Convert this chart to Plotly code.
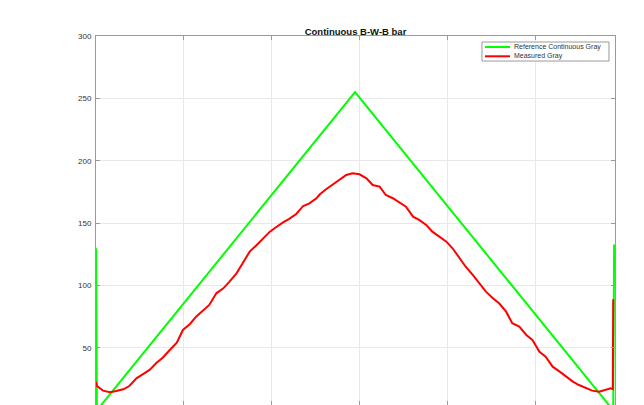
import plotly.graph_objects as go

# Reference continuous gray (vertices of the polyline)
ref_x = [0, 1, 295, 589, 590]
ref_y = [130, 0, 255, 0, 133]

# Measured gray
meas_x = [0, 1, 8, 16, 23, 31, 38, 46, 54, 61, 69, 76, 84, 92, 99, 107, 114, 122,
          129, 137, 145, 152, 160, 167, 175, 183, 190, 198, 205, 213, 220, 228,
          236, 243, 251, 255, 262, 270, 277, 285, 292, 300, 308, 315, 323, 330,
          338, 346, 353, 361, 368, 376, 383, 391, 399, 406, 414, 421, 429, 437,
          444, 452, 459, 467, 474, 482, 490, 497, 505, 512, 520, 528, 535, 543,
          550, 558, 565, 573, 581, 586, 588.5, 589]
meas_y = [23, 19.5, 15.8, 14.5, 15.5, 16.9, 19.5, 25.7, 29.2, 32.4, 38.2, 42.2,
          48.4, 54.3, 64.4, 69.2, 75.1, 80.4, 84.5, 93.8, 97.8, 103.1, 109.8,
          117.9, 127.2, 132.5, 137.3, 143.2, 146.7, 150.7, 153.4, 157.4, 163.8,
          165.9, 170, 173.2, 177.2, 181.2, 184.6, 188.6, 190, 189.2, 186, 180.6,
          179.3, 172.6, 170, 166.7, 163.2, 155.2, 152.6, 148.6, 143.2, 139.2,
          135.2, 129.9, 121.9, 115.1, 108.5, 101.8, 95.1, 89.8, 85.8, 79.1, 69.8,
          67.1, 60.4, 56.4, 47, 43, 35, 31, 27, 23, 20.3, 17.7, 15.8, 15, 16.3,
          17.7, 17, 89]

y_ticks = [0, 50, 100, 150, 200, 250, 300]
x_ticks = [0, 100, 200, 300, 400, 500]

series_names = ["Reference Continuous Gray", "Measured Gray"]
series_colors = ["#00ff00", "#ff0000"]

FONT = "Liberation Sans, Arial, Helvetica, sans-serif"

fig = go.Figure()
fig.add_trace(go.Scatter(x=ref_x, y=ref_y, mode="lines", name=series_names[0],
                         line=dict(color=series_colors[0], width=2)))
fig.add_trace(go.Scatter(x=meas_x, y=meas_y, mode="lines", name=series_names[1],
                         line=dict(color=series_colors[1], width=2)))

axis_common = dict(showline=True, linecolor="#9a9a9a", linewidth=1, mirror="ticks",
                   ticks="inside", tickcolor="#9a9a9a", ticklen=4,
                   showgrid=True, gridcolor="#e8e8e8", gridwidth=1, zeroline=False,
                   automargin=False,
                   tickfont=dict(family=FONT, size=8, color="#333333"))

# Compact MATLAB-style legend drawn in the axes' domain coordinates
shapes = [dict(type="rect", xref="x domain", yref="y domain",
               x0=0.7437, x1=0.9884, y0=0.9322, y1=0.9837,
               line=dict(color="#9a9a9a", width=1), fillcolor="white", layer="above")]
annotations = []
row_y = [0.9702, 0.945]
for name, color, yy in zip(series_names, series_colors, row_y):
    shapes.append(dict(type="line", xref="x domain", yref="y domain",
                       x0=0.7495, x1=0.7977, y0=yy, y1=yy,
                       line=dict(color=color, width=2), layer="above"))
    annotations.append(dict(xref="x domain", yref="y domain", x=0.8015, y=yy,
                            xanchor="left", yanchor="middle", showarrow=False,
                            text=name, font=dict(family=FONT, size=7, color="#333333")))

fig.update_layout(
    width=644, height=405,
    margin=dict(l=96, r=29, t=36, b=0),
    paper_bgcolor="white", plot_bgcolor="white",
    title=dict(text="<b>Continuous B-W-B bar</b>", x=0.5, xref="paper", xanchor="center",
               y=1, yref="paper", yanchor="bottom", pad=dict(b=1),
               font=dict(family=FONT, size=9.5, color="#111111")),
    xaxis=dict(range=[0, 591], tickvals=x_ticks, showticklabels=False, **axis_common),
    yaxis=dict(range=[4.3, 300], tickvals=y_ticks, ticklabelstandoff=2, **axis_common),
    showlegend=False,
    shapes=shapes,
    annotations=annotations,
)

fig.write_html("out.html")
